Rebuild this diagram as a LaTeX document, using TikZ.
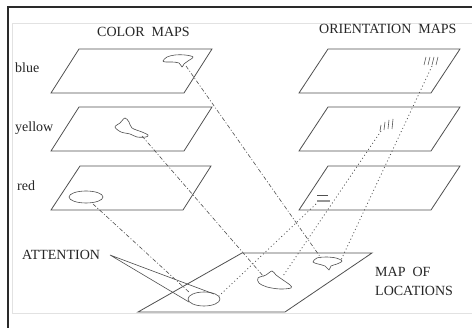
\documentclass[tikz,border=0pt]{standalone}
\usepackage{fontspec}
\setmainfont{Liberation Serif}
\begin{document}
\begin{tikzpicture}[x=1pt,y=-1pt,
  plane/.style={draw=linecol, line width=0.8pt, line join=miter},
  colorlink/.style={draw=linecol, line width=0.6pt, dash pattern=on 4pt off 2pt on 1pt off 2pt},
  orientlink/.style={draw=linecol, line width=0.75pt, dash pattern=on 1pt off 2.6pt},
  blob/.style={draw=linecol, line width=0.6pt},
  tick/.style={draw=linecol, line width=0.6pt},
  pointer/.style={draw=linecol, line width=0.6pt},
  lbl/.style={anchor=base west, inner sep=0pt, text=black!85, font=\fontsize{14}{16}\selectfont}]
\definecolor{linecol}{HTML}{505050}
\definecolor{framecol}{HTML}{2A2A2A}
\definecolor{innercol}{HTML}{E2E2E2}

% canvas
\fill[white] (0,0) rectangle (472,328);
\useasboundingbox (0,0) rectangle (472,328);

% outer and inner frame
\draw[framecol, line width=1.6pt] (8,328) -- (8,7) -- (472,7);
\draw[innercol, line width=0.8pt] (472,23) -- (12,23) -- (12,313) -- (472,313);

% headings and labels
\node[lbl] (hcolor)  at (97,37)  {COLOR\ \ MAPS};
\node[lbl] (horient) at (319,34) {ORIENTATION\ \ MAPS};
\node[lbl] (lblue)   at (15,73)  {blue};
\node[lbl] (lyellow) at (15,132) {yellow};
\node[lbl] (lred)    at (17,191) {red};
\node[lbl] (latt)    at (22,260) {ATTENTION};
\node[lbl] (lmap1)   at (375,277) {MAP\ \ OF};
\node[lbl] (lmap2)   at (375,296) {LOCATIONS};

% colour feature maps
\draw[plane] (79,49)  -- (212,49)  -- (184,93)  -- (51,93)  -- cycle;
\draw[plane] (79,107) -- (212,107) -- (184,151) -- (51,151) -- cycle;
\draw[plane] (80,166) -- (211,166) -- (183,210) -- (51,210) -- cycle;

% orientation feature maps
\draw[plane] (328,49)  -- (460,49)  -- (431,93)  -- (299,93)  -- cycle;
\draw[plane] (328,107) -- (460,107) -- (431,151) -- (299,151) -- cycle;
\draw[plane] (328,166) -- (460,166) -- (431,210) -- (299,210) -- cycle;

% master map of locations
\draw[plane] (242,253) -- (372,253) -- (285,312) -- (138,312) -- cycle;

% blobs on the colour maps
\draw[blob] plot[smooth cycle, tension=0.55] coordinates
  {(163,61) (167,57) (175,55) (185,55) (193,57) (188,61) (184,64) (182,67) (179,63) (172,62) (166,62)};
\draw[blob] plot[smooth cycle, tension=0.55] coordinates
  {(115,127) (120,123) (125,118) (129,122) (132,128) (142,132) (148,135) (146,137) (137,137) (130,134) (121,132)};
\draw[blob] (86,197) ellipse [x radius=17, y radius=6];

% blobs on the map of locations
\draw[blob] plot[smooth cycle, tension=0.55] coordinates
  {(313,262) (317,258) (326,257) (336,258) (342,261) (337,264) (331,266) (329,270) (325,266) (318,264)};
\draw[blob] plot[smooth cycle, tension=0.55] coordinates
  {(258,278) (266,275) (272,271) (276,275) (283,280) (290,285) (291,288) (280,289) (267,287) (259,283)};
\draw[blob] (204,299) ellipse [x radius=16, y radius=7];

% orientation marks
\foreach \x in {424,428,432,436} \draw[tick] (\x,65) -- (\x+2,57);
\draw[tick] (380,131) -- (381,125);
\draw[tick] (384,130) -- (385,122);
\draw[tick] (388,129) -- (389,120);
\draw[tick] (392,129) -- (393,119);
\draw[tick] (317,195) -- (328,195);
\draw[draw=linecol!60, line width=1.1pt] (317,201) -- (330,201);

% link end points
\coordinate (blueS)   at (186,66);
\coordinate (yellowS) at (142,136);
\coordinate (redS)    at (93,204);
\coordinate (oriA)    at (432,66);
\coordinate (oriB)    at (381,131);
\coordinate (oriC)    at (316,204);
\coordinate (locFan)  at (321,258);
\coordinate (locFanR) at (341,260);
\coordinate (locMid)  at (264,277);
\coordinate (locMidR) at (283,276);
\coordinate (locEllL) at (190,293);
\coordinate (locEllR) at (219,296);
\coordinate (attTip)  at (110,255);
\coordinate (attA)    at (214,294);
\coordinate (attB)    at (189,302);

% colour links
\draw[colorlink] (blueS) -- (locFan);
\draw[colorlink] (yellowS) -- (locMid);
\draw[colorlink] (redS) -- (locEllL);

% orientation links
\draw[orientlink] (oriA) -- (locFanR);
\draw[orientlink] (oriB) -- (locMidR);
\draw[orientlink] (oriC) -- (locEllR);

% attention pointer
\draw[pointer] (attA) -- (attTip) -- (attB);
\end{tikzpicture}
\end{document}
